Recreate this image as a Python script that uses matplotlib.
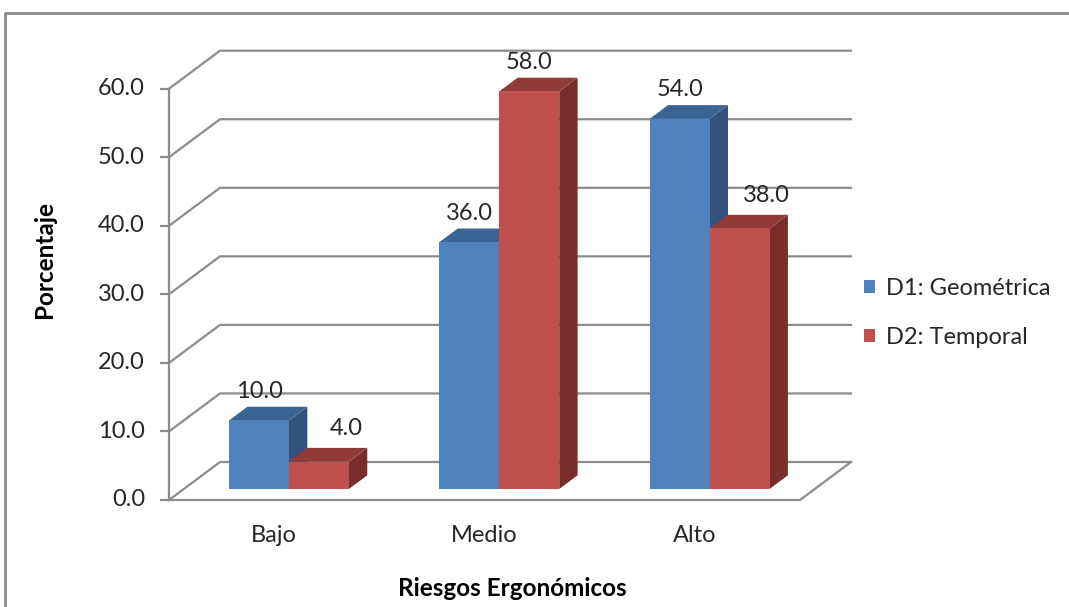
import matplotlib.pyplot as plt
import numpy as np
from matplotlib.lines import Line2D
from matplotlib.patches import Patch, Polygon

categories = ["Bajo", "Medio", "Alto"]
series_names = ["D1: Geométrica", "D2: Temporal"]
geometrica = [10.0, 36.0, 54.0]
temporal = [4.0, 58.0, 38.0]
y_ticks = [0, 10, 20, 30, 40, 50, 60]

plt.rcParams["font.family"] = ["Lato", "DejaVu Sans"]

W, H, DPI = 1069, 607, 100
fig = plt.figure(figsize=(W / DPI, H / DPI), dpi=DPI)

# front plane of the 3d box, in pixels
left_px, right_px, bottom_px, top_px = 169, 800, 500, 88.7
ax = fig.add_axes([left_px / W, 1 - bottom_px / H,
                   (right_px - left_px) / W, (bottom_px - top_px) / H])
ax.set_xlim(0, 3)
ax.set_ylim(0, 60)
ax.axis("off")

px_x = (right_px - left_px) / 3.0   # pixels per category
px_y = (bottom_px - top_px) / 60.0  # pixels per unit
DX = 51 / px_x                      # full depth offset in data units
DY = 38 / px_y

txt_color = "#262626"
grid_kw = dict(color="#8c8c8c", lw=1.6, clip_on=False, zorder=1)

# back wall gridlines + left wall diagonals
for v in y_ticks:
    ax.plot([0, DX, 3 + DX], [v, v + DY, v + DY], **grid_kw)
# floor front and right edges, vertical axis, tick marks
ax.plot([0, 3, 3 + DX], [0, 0, DY], **grid_kw)
ax.plot([0, 0], [0, 60], **grid_kw)
tick_len = 8 / px_x
for v in y_ticks:
    ax.plot([-tick_len, 0], [v, v], **grid_kw)
    ax.text(-24 / px_x, v, f"{v:.1f}", ha="right", va="center", fontsize=17,
            color=txt_color)

for i, c in enumerate(categories):
    ax.text(i + 0.5, -35 / px_y, c, ha="center", va="center", fontsize=17,
            color=txt_color)

bar_w = 0.285
d0, dd = 0.29, 0.36
colors = [("#4f81bd", "#3b6394", "#33527d"), ("#c0504d", "#923a37", "#7a2e2c")]

for i in range(len(categories)):
    vals = [geometrica[i], temporal[i]]
    for j, v in enumerate(vals):
        front, top, side = colors[j]
        x0 = i + 0.5 - bar_w + j * bar_w + d0 * DX
        x1 = x0 + bar_w
        y0 = d0 * DY
        y1 = y0 + v
        ox, oy = dd * DX, dd * DY
        ax.add_patch(Polygon([[x1, y0], [x1 + ox, y0 + oy], [x1 + ox, y1 + oy], [x1, y1]],
                             closed=True, fc=side, ec="none", clip_on=False, zorder=3))
        ax.add_patch(Polygon([[x0, y1], [x1, y1], [x1 + ox, y1 + oy], [x0 + ox, y1 + oy]],
                             closed=True, fc=top, ec="none", clip_on=False, zorder=3))
        ax.add_patch(Polygon([[x0, y0], [x1, y0], [x1, y1], [x0, y1]],
                             closed=True, fc=front, ec="none", clip_on=False, zorder=3))
        # label sits over the top face; shorter right-hand bar pushes it aside
        lx = (x0 + x1) / 2
        ly = y1 + oy + 5 / px_y
        if j > 0 and v < vals[j - 1]:
            lx += 27 / px_x
            ly += 4 / px_y
        ax.text(lx, ly, f"{v:.1f}", ha="center", va="bottom", fontsize=17,
                color=txt_color, zorder=4)

fig.text(44 / W, 1 - 260 / H, "Porcentaje", rotation=90, ha="center", va="center",
         fontsize=17.5, fontweight="bold", color="black")
fig.text(512 / W, 1 - 588 / H, "Riesgos Ergonómicos", ha="center", va="center",
         fontsize=17.5, fontweight="bold", color="black")

handles = [Patch(facecolor=colors[k][0], edgecolor="none") for k in range(2)]
fig.legend(handles, series_names, loc="center left",
           bbox_to_anchor=(864 / W, 1 - 313 / H), frameon=False, fontsize=17,
           handlelength=0.48, handleheight=0.48, handletextpad=0.45, labelspacing=1.2,
           labelcolor=txt_color, borderpad=0, borderaxespad=0)

# outer chart frame
fig.add_artist(Line2D([4.5 / W, 4.5 / W, 1.0], [0.0, 1 - 12.5 / H, 1 - 12.5 / H],
                      transform=fig.transFigure, color="#8a8a8a", lw=2))

fig.savefig("out.png", dpi=DPI)
